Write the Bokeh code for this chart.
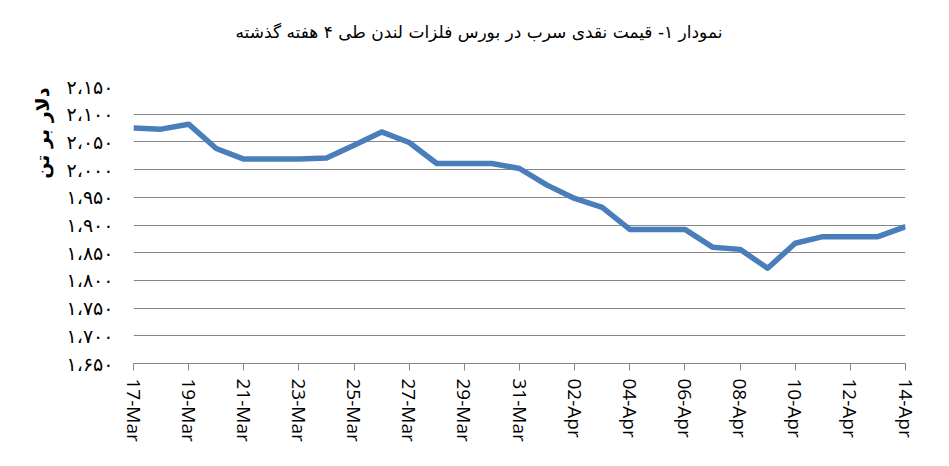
from bokeh.plotting import figure
from bokeh.models import Range1d, FixedTicker, Title
from bokeh.embed import file_html
from bokeh.resources import INLINE

# ---- data ----
dates = ["17-Mar", "18-Mar", "19-Mar", "20-Mar", "21-Mar", "22-Mar", "23-Mar", "24-Mar",
         "25-Mar", "26-Mar", "27-Mar", "28-Mar", "29-Mar", "30-Mar", "31-Mar",
         "01-Apr", "02-Apr", "03-Apr", "04-Apr", "05-Apr", "06-Apr", "07-Apr", "08-Apr",
         "09-Apr", "10-Apr", "11-Apr", "12-Apr", "13-Apr", "14-Apr"]
prices = [2075, 2073, 2082, 2038, 2019, 2019, 2019, 2021, 2044, 2068, 2049, 2011, 2011, 2011, 2002,
          1972, 1948, 1932, 1892, 1892, 1892, 1860, 1856, 1822, 1867, 1879, 1879, 1879, 1897]
y_tick_values = [1650, 1700, 1750, 1800, 1850, 1900, 1950, 2000, 2050, 2100, 2150]
y_tick_labels = ["۱،۶۵۰", "۱،۷۰۰", "۱،۷۵۰", "۱،۸۰۰", "۱،۸۵۰", "۱،۹۰۰",
                 "۱،۹۵۰", "۲،۰۰۰", "۲،۰۵۰", "۲،۱۰۰", "۲،۱۵۰"]
title_text = "نمودار ۱- قیمت نقدی سرب  در بورس فلزات لندن طی ۴ هفته گذشته"
y_label_text = "دلار بر تن"

x_idx = list(range(len(dates)))

p = figure(width=945, height=462, output_backend="svg", toolbar_location=None,
           x_range=Range1d(0, len(dates) - 1), y_range=Range1d(y_tick_values[0], y_tick_values[-1]),
           min_border_left=133, min_border_right=40, min_border_top=86, min_border_bottom=99)
p.outline_line_color = None
p.background_fill_color = "white"
p.border_fill_color = "white"

p.line(x_idx, prices, line_color="#4A7EBB", line_width=5.5, line_join="round")

# x axis
p.xaxis.ticker = FixedTicker(ticks=x_idx[::2])
p.xaxis.major_label_overrides = {i: dates[i] for i in x_idx[::2]}
p.xaxis.major_label_orientation = "vertical"
p.xaxis.axis_line_color = "#868686"
p.xaxis.major_tick_line_color = "#868686"
p.xaxis.major_tick_out = 7
p.xaxis.major_tick_in = 0
p.xaxis.minor_tick_line_color = None
p.xaxis.major_label_text_font = "Open Sans"
p.xaxis.major_label_text_font_size = "19px"
p.xaxis.major_label_text_color = "black"
p.xaxis.major_label_standoff = 8
p.xgrid.grid_line_color = None

# y axis
p.yaxis.ticker = FixedTicker(ticks=y_tick_values)
p.yaxis.major_label_overrides = {v: l for v, l in zip(y_tick_values, y_tick_labels)}
p.yaxis.axis_line_color = None
p.yaxis.major_tick_line_color = None
p.yaxis.minor_tick_line_color = None
p.yaxis.major_tick_out = 0
p.yaxis.major_tick_in = 0
p.yaxis.major_label_standoff = 20
p.yaxis.major_label_text_font = "DejaVu Sans"
p.yaxis.major_label_text_font_size = "19px"
p.yaxis.major_label_text_color = "black"
p.ygrid.grid_line_color = "#868686"
p.ygrid.grid_line_width = 1

ylab = Title(text=y_label_text, align="right", offset=-5, text_font="DejaVu Sans",
             text_font_size="19px", text_font_style="bold", text_color="black")
if "padding" in Title.properties():
    ylab.padding = 6
p.add_layout(ylab, "left")

spacer = Title(text="\u00a0", text_font_size="25px")
p.add_layout(spacer, "above")

ttl = Title(text=title_text, align="left", offset=102, text_font="DejaVu Sans",
            text_font_size="17px", text_font_style="normal", text_color="black")
p.add_layout(ttl, "above")

open("out.html", "w").write(file_html(p, INLINE))
